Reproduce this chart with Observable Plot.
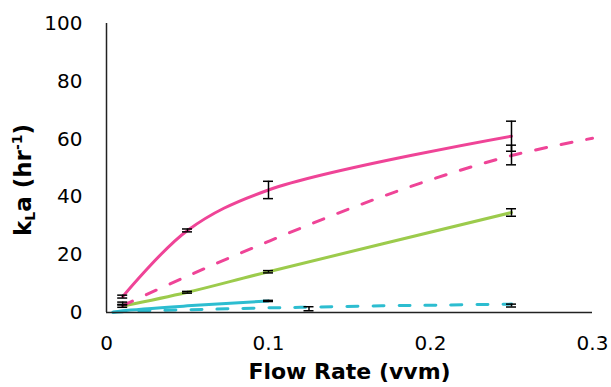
<!DOCTYPE html>
<html><head><meta charset="utf-8">
<script src="https://cdn.jsdelivr.net/npm/d3@7"></script>
<script src="https://cdn.jsdelivr.net/npm/@observablehq/plot@0.6"></script>
<style>body{margin:0;background:#fff;} svg{display:block;}</style>
</head><body><div id="chart"></div>
<script>
const xTicks = [0, 0.1, 0.2, 0.3];
const yTicks = [0, 20, 40, 60, 80, 100];

// Pink solid series
const pinkSolidX = [0.01, 0.05, 0.1, 0.25];
const pinkSolidY = [5.5, 28.4, 42.4, 61.0];
const pinkSolidErr = [0.5, 0.5, 3.0, 5.2];

// Pink dashed series
const pinkDashX = [0.01, 0.05, 0.1, 0.15, 0.2, 0.25, 0.3];
const pinkDashY = [2.4, 12.6, 24.6, 35.9, 45.9, 54.3, 60.3];
const pinkDashErrX = [0.01, 0.25];
const pinkDashErrY = [3.2, 54.5];
const pinkDashErr = [0.4, 3.4];

// Green solid series
const greenX = [0.01, 0.05, 0.1, 0.25];
const greenY = [2.2, 7.0, 14.1, 34.6];
const greenErr = [0.4, 0.3, 0.4, 1.3];

// Cyan solid series
const cyanSolidX = [0.004, 0.01, 0.05, 0.1];
const cyanSolidY = [0.1, 0.6, 2.3, 4.0];
const cyanSolidErrX = [0.1];
const cyanSolidErrY = [4.0];
const cyanSolidErr = [0.2];

// Cyan dashed series
const cyanDashX = [0.004, 0.01, 0.03, 0.06, 0.09, 0.12, 0.17, 0.21, 0.25];
const cyanDashY = [0.1, 0.3, 0.7, 1.05, 1.5, 1.8, 2.3, 2.6, 2.9];
const cyanDashErrX = [0.125, 0.25];
const cyanDashErrY = [1.3, 2.4];
const cyanDashErr = [0.7, 0.5];

const PINK = "#ef4497", GREEN = "#9ccb4c", CYAN = "#2dbdd0";

const pts = (xs, ys) => xs.map((x, i) => ({x, y: ys[i]}));
const errs = (xs, ys, es) => xs.map((x, i) => ({x, lo: ys[i] - es[i], hi: ys[i] + es[i]}));

const allErr = [
  ...errs(pinkSolidX, pinkSolidY, pinkSolidErr),
  ...errs(pinkDashErrX, pinkDashErrY, pinkDashErr),
  ...errs(greenX, greenY, greenErr),
  ...errs(cyanSolidErrX, cyanSolidErrY, cyanSolidErr),
  ...errs(cyanDashErrX, cyanDashErrY, cyanDashErr)
];

const dash = {strokeDasharray: "11,15", strokeLinecap: "round"};

const chart = Plot.plot({
  width: 611,
  height: 387,
  marginLeft: 106,
  marginRight: 19,
  marginTop: 23,
  marginBottom: 75,
  style: {fontFamily: "DejaVu Sans", background: "#fff", color: "#000"},
  x: {domain: [0, 0.3], ticks: xTicks},
  y: {domain: [0, 100], ticks: yTicks},
  marks: [
    Plot.axisX({ticks: xTicks, tickSize: 0, tickPadding: 23, fontSize: 20, label: null,
      tickFormat: d => d === 0 ? "0" : String(+d.toFixed(1))}),
    Plot.axisY({ticks: yTicks, tickSize: 0, tickPadding: 24, fontSize: 20, label: null}),
    Plot.line(pts(cyanDashX, cyanDashY), {x: "x", y: "y", stroke: CYAN, strokeWidth: 3, curve: "catmull-rom", ...dash}),
    Plot.line(pts(cyanSolidX, cyanSolidY), {x: "x", y: "y", stroke: CYAN, strokeWidth: 3, curve: "catmull-rom", strokeLinecap: "round"}),
    Plot.line(pts(greenX, greenY), {x: "x", y: "y", stroke: GREEN, strokeWidth: 3, curve: "catmull-rom", strokeLinecap: "round"}),
    Plot.line(pts(pinkDashX, pinkDashY), {x: "x", y: "y", stroke: PINK, strokeWidth: 3, curve: "catmull-rom", ...dash}),
    Plot.line(pts(pinkSolidX, pinkSolidY), {x: "x", y: "y", stroke: PINK, strokeWidth: 3, curve: "catmull-rom", strokeLinecap: "round"}),
    Plot.ruleX([0], {stroke: "#222", strokeWidth: 1.5}),
    Plot.ruleY([0], {stroke: "#222", strokeWidth: 1.5}),
    Plot.ruleX(allErr, {x: "x", y1: "lo", y2: "hi", stroke: "#000", strokeWidth: 1.5}),
    Plot.ruleY(allErr, {y: "lo", x1: "x", x2: "x", insetLeft: -5, insetRight: -5, stroke: "#000", strokeWidth: 1.5}),
    Plot.ruleY(allErr, {y: "hi", x1: "x", x2: "x", insetLeft: -5, insetRight: -5, stroke: "#000", strokeWidth: 1.5}),
    Plot.text(["Flow Rate (vvm)"], {frameAnchor: "bottom", dy: 66, fontSize: 22, fontWeight: "bold", fill: "#000"})
  ]
});

// y-axis title with subscript / superscript
const svg = d3.select(chart);
const t = svg.append("text")
  .attr("transform", "translate(31,180) rotate(-90)")
  .attr("text-anchor", "middle")
  .attr("font-family", "DejaVu Sans")
  .attr("font-weight", "bold")
  .attr("font-size", 23)
  .attr("fill", "#000");
t.append("tspan").text("k");
t.append("tspan").attr("font-size", 14).attr("dy", 4).text("L");
t.append("tspan").attr("dy", -4).text("a (hr");
t.append("tspan").attr("font-size", 14).attr("dy", -9).text("-1");
t.append("tspan").attr("dy", 9).text(")");

document.getElementById("chart").append(chart);
</script>
</body></html>
